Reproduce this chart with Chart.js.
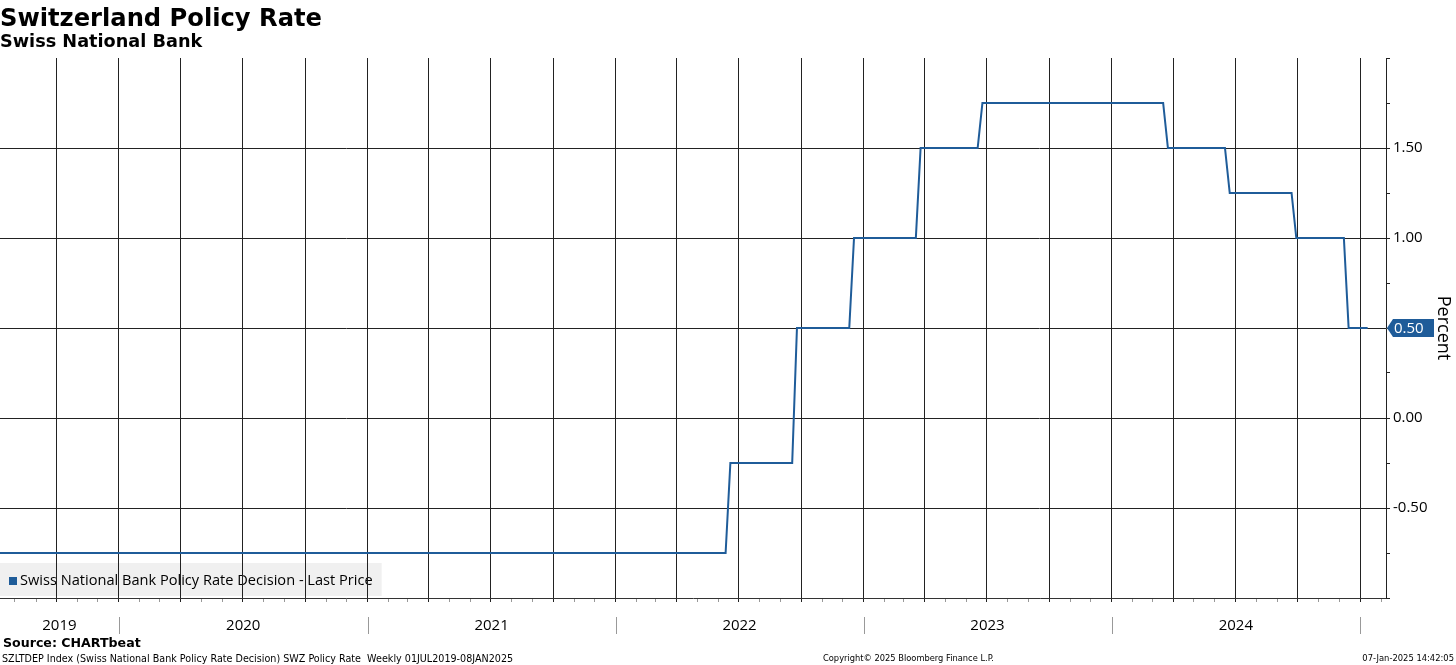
<!DOCTYPE html>
<html>
<head>
<meta charset="utf-8">
<script src="https://cdn.jsdelivr.net/npm/chart.js@4.4.0/dist/chart.umd.min.js"></script>
<style>
  html, body { margin: 0; padding: 0; background: #fff; }
  #wrap { position: relative; width: 1456px; height: 665px; overflow: hidden; }
  #wrap canvas { position: absolute; left: 0; top: 0; }
  .txt { position: absolute; white-space: nowrap; line-height: 1; color: #000; font-family: 'DejaVu Sans', Verdana, sans-serif; }
  #title { left: 0; top: 6px; font-size: 24.2px; font-weight: bold; }
  #subtitle { left: 0; top: 33px; font-size: 17.7px; font-weight: bold; }
  #source { left: 3px; top: 637px; font-size: 12.6px; font-weight: bold; }
  #foot-left { left: 2px; top: 654px; font-size: 9.6px; }
  #foot-mid { left: 823px; top: 654px; font-size: 8.3px; }
  #foot-right { right: 2px; top: 654px; font-size: 8.4px; }
</style>
</head>
<body>
<div id="wrap">
  <canvas id="chart" width="1456" height="665"></canvas>
  <div class="txt" id="title">Switzerland Policy Rate</div>
  <div class="txt" id="subtitle">Swiss National Bank</div>
  <div class="txt" id="source">Source: CHARTbeat</div>
  <div class="txt" id="foot-left">SZLTDEP Index (Swiss National Bank Policy Rate Decision) SWZ Policy Rate&nbsp; Weekly 01JUL2019-08JAN2025</div>
  <div class="txt" id="foot-mid">Copyright© 2025 Bloomberg Finance L.P.</div>
  <div class="txt" id="foot-right">07-Jan-2025 14:42:05</div>
</div>
<script>
// weekly points at the corners of each step (SNB policy rate, percent)
const weekDates = [
  '2019-07-07', '2022-06-12',
  '2022-06-19', '2022-09-18',
  '2022-09-25', '2022-12-11',
  '2022-12-18', '2023-03-19',
  '2023-03-26', '2023-06-18',
  '2023-06-25', '2024-03-17',
  '2024-03-24', '2024-06-16',
  '2024-06-23', '2024-09-22',
  '2024-09-29', '2024-12-08',
  '2024-12-15', '2025-01-12'
];
const rates = [
  -0.75, -0.75,
  -0.25, -0.25,
  0.50, 0.50,
  1.00, 1.00,
  1.50, 1.50,
  1.75, 1.75,
  1.50, 1.50,
  1.25, 1.25,
  1.00, 1.00,
  0.50, 0.50
];
const yearLabels = ['2019', '2020', '2021', '2022', '2023', '2024'];
const yTickLabels = [-0.5, 0, 0.5, 1.0, 1.5];
const seriesLabel = 'Swiss National Bank Policy Rate Decision - Last Price';

const X_MIN = Date.UTC(2019, 6, 10);
const X_MAX = Date.UTC(2025, 1, 8);
const BLUE = '#1f5c99';
const FONT = '"Open Sans", "Noto Sans", sans-serif';

const isQuarter = v => new Date(v).getUTCMonth() % 3 === 0;

const decor = {
  id: 'decor',
  beforeDraw(chart) {
    const ctx = chart.ctx, area = chart.chartArea;
    const ds = chart.data.datasets[0];
    ctx.save();
    ctx.font = '14.6px ' + FONT;
    const w = ctx.measureText(ds.label).width;
    ctx.fillStyle = '#f0f0f0';
    ctx.fillRect(area.left, area.bottom - 35, w + 29, 33);
    ctx.fillStyle = ds.borderColor;
    ctx.fillRect(area.left + 9, area.bottom - 21, 8, 8);
    ctx.fillStyle = '#000';
    ctx.textBaseline = 'middle';
    ctx.fillText(ds.label, area.left + 20, area.bottom - 17);
    ctx.restore();
  },
  afterDraw(chart) {
    const ctx = chart.ctx, area = chart.chartArea;
    const xs = chart.scales.x, ys = chart.scales.y;
    ctx.save();
    // year separators under the axis
    ctx.strokeStyle = '#999';
    ctx.lineWidth = 1;
    for (let yr = 2019; yr <= 2025; yr++) {
      const px = Math.round(xs.getPixelForValue(Date.UTC(yr, 0, 1))) + 0.5;
      if (px > area.left && px < area.right) {
        ctx.beginPath();
        ctx.moveTo(px, area.bottom + 19);
        ctx.lineTo(px, area.bottom + 36);
        ctx.stroke();
      }
    }
    // year labels centred in their visible span
    ctx.font = '15px ' + FONT;
    ctx.fillStyle = '#000';
    ctx.textAlign = 'center';
    ctx.textBaseline = 'middle';
    yearLabels.forEach(lbl => {
      const yr = +lbl;
      const a = Math.max(area.left, xs.getPixelForValue(Date.UTC(yr, 0, 1)));
      const b = Math.min(area.right, xs.getPixelForValue(Date.UTC(yr + 1, 0, 1)));
      ctx.fillText(lbl, (a + b) / 2, area.bottom + 28);
    });
    // last price tag
    const last = rates[rates.length - 1];
    const py = Math.round(ys.getPixelForValue(last));
    const x0 = area.right + 1, x1 = x0 + 6, x2 = 1434;
    ctx.fillStyle = BLUE;
    ctx.beginPath();
    ctx.moveTo(x0, py);
    ctx.lineTo(x1, py - 9);
    ctx.lineTo(x2, py - 9);
    ctx.lineTo(x2, py + 9);
    ctx.lineTo(x1, py + 9);
    ctx.closePath();
    ctx.fill();
    ctx.fillStyle = '#fff';
    ctx.textAlign = 'left';
    ctx.fillText(last.toFixed(2), x1 + 1, py + 1);
    ctx.restore();
  }
};

new Chart(document.getElementById('chart'), {
  type: 'line',
  data: {
    datasets: [{
      label: seriesLabel,
      data: weekDates.map((d, i) => ({ x: Date.parse(d), y: rates[i] })),
      borderColor: BLUE,
      backgroundColor: BLUE,
      borderWidth: 2,
      pointRadius: 0,
      tension: 0,
      fill: false
    }]
  },
  options: {
    responsive: false,
    animation: false,
    devicePixelRatio: 1,
    layout: { padding: { top: 58, left: 0, right: 0, bottom: 0 } },
    plugins: {
      legend: { display: false },
      tooltip: { enabled: false }
    },
    scales: {
      x: {
        type: 'linear',
        position: 'bottom',
        min: X_MIN,
        max: X_MAX,
        afterBuildTicks(scale) {
          const ticks = [];
          for (let y = 2019; y <= 2025; y++) {
            for (let m = 0; m < 12; m++) {
              const v = Date.UTC(y, m, 1);
              if (v > X_MIN && v < X_MAX) ticks.push({ value: v });
            }
          }
          scale.ticks = ticks;
        },
        afterFit(scale) { scale.height = 67; },
        ticks: { display: false },
        grid: {
          color: c => (c.tick && isQuarter(c.tick.value)) ? '#222' : 'rgba(0,0,0,0)',
          tickColor: c => (c.tick && isQuarter(c.tick.value)) ? '#222' : '#999',
          tickLength: 4,
          lineWidth: 1
        },
        border: { display: true, color: '#333', width: 1 }
      },
      y: {
        position: 'right',
        min: -1,
        max: 2,
        afterFit(scale) { scale.width = 70; },
        ticks: {
          stepSize: 0.25,
          padding: 3,
          color: '#000',
          font: { family: FONT, size: 15 },
          callback: v => yTickLabels.includes(v) ? v.toFixed(2) : ''
        },
        grid: {
          color: c => (c.tick && yTickLabels.includes(c.tick.value)) ? '#222' : 'rgba(0,0,0,0)',
          tickColor: '#222',
          tickLength: 4,
          lineWidth: 1
        },
        border: { display: true, color: '#222', width: 1 },
        title: {
          display: true,
          text: 'Percent',
          color: '#000',
          padding: 2,
          font: { family: FONT, size: 18 }
        }
      }
    }
  },
  plugins: [decor]
});
</script>
</body>
</html>
